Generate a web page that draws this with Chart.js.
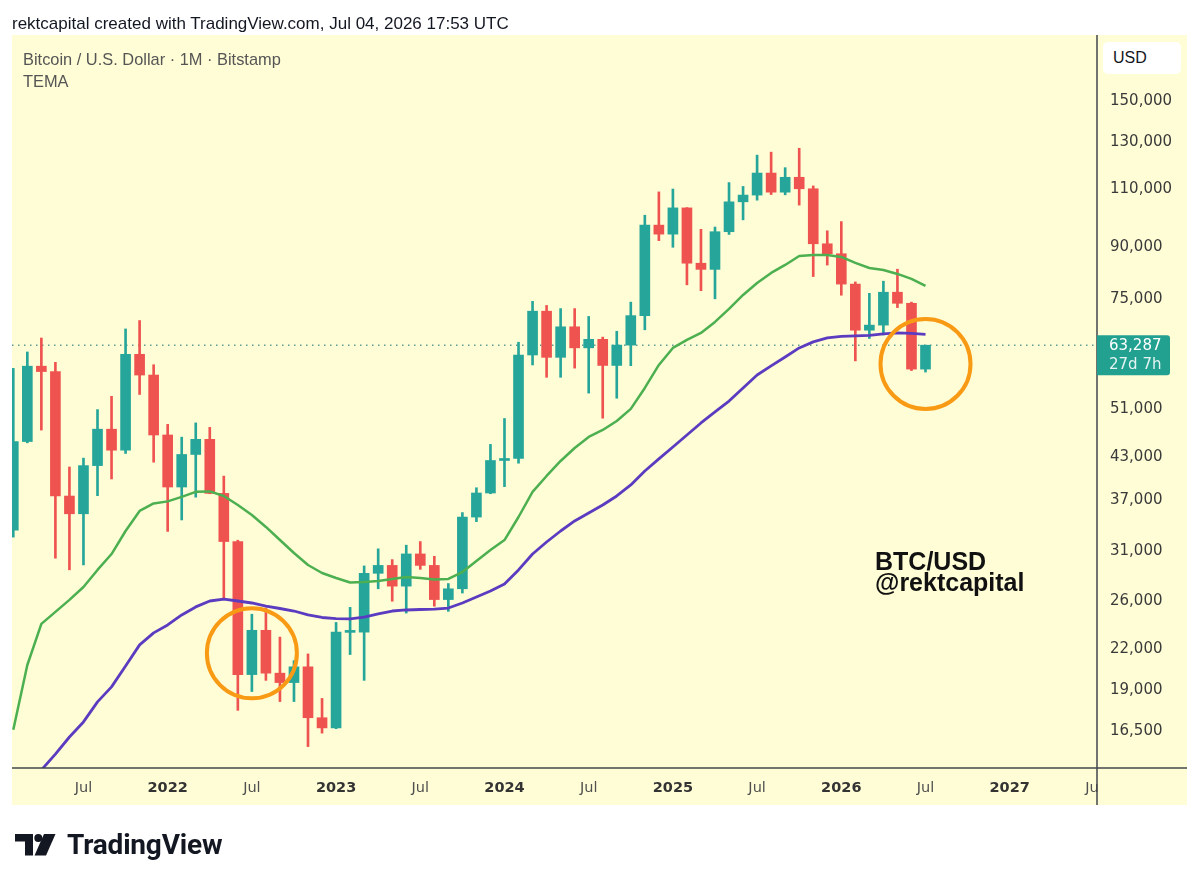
<!DOCTYPE html>
<html>
<head>
<meta charset="utf-8">
<title>BTC/USD 1M · TEMA</title>
<script src="https://cdn.jsdelivr.net/npm/chart.js@4.4.1/dist/chart.umd.min.js"></script>
<style>
  html, body { margin: 0; padding: 0; background: #fff; }
  #page { position: relative; width: 1200px; height: 885px; overflow: hidden; }
  #chart { position: absolute; left: 0; top: 0; }
  .txt { position: absolute; white-space: nowrap; z-index: 2; }
  #header { left: 12px; top: 15px; font: 17px/17px "Liberation Sans", Arial, sans-serif; color: #131722; }
  #legend { left: 23px; top: 48px; font: 16.4px/22px "Liberation Sans", Arial, sans-serif; color: #555; }
  #note { left: 875px; top: 551px; font: bold 25px/21px "Liberation Sans", Arial, sans-serif; color: #111; }
  #usd { left: 1103px; top: 42px; width: 68px; height: 32px; padding-left: 10px; background: #fff; border-radius: 5px;
         font: 16px/32px "Liberation Sans", Arial, sans-serif; color: #131722; }
  #logo { left: 67px; top: 831px; font: bold 28px/28px Roboto, "Liberation Sans", sans-serif; color: #131722; letter-spacing: -0.2px; }
  #logoIcon { position: absolute; left: 15px; top: 834px; z-index: 2; }
</style>
</head>
<body>
<div id="page">
  <canvas id="chart" width="1200" height="885"></canvas>
  <div class="txt" id="header">rektcapital created with TradingView.com, Jul 04, 2026 17:53 UTC</div>
  <div class="txt" id="legend">Bitcoin / U.S. Dollar · 1M · Bitstamp<br>TEMA</div>
  <div class="txt" id="note">BTC/USD<br>@rektcapital</div>
  <div class="txt" id="usd">USD</div>
  <svg id="logoIcon" width="41" height="22" viewBox="0 0 41 22">
    <rect x="0" y="0" width="18" height="7.5" fill="#131722"/>
    <rect x="10" y="0" width="8" height="21.5" fill="#131722"/>
    <circle cx="23.3" cy="4" r="4" fill="#131722"/>
    <polygon points="29,0 40.5,0 31,21.5 19.5,21.5" fill="#131722"/>
  </svg>
  <div class="txt" id="logo">TradingView</div>
</div>
<script>
// monthly candles, Feb 2021 .. Jul 2026 (x = index)
const months = [
  "2021-02","2021-03","2021-04","2021-05","2021-06","2021-07","2021-08","2021-09","2021-10","2021-11","2021-12",
  "2022-01","2022-02","2022-03","2022-04","2022-05","2022-06","2022-07","2022-08","2022-09","2022-10","2022-11","2022-12",
  "2023-01","2023-02","2023-03","2023-04","2023-05","2023-06","2023-07","2023-08","2023-09","2023-10","2023-11","2023-12",
  "2024-01","2024-02","2024-03","2024-04","2024-05","2024-06","2024-07","2024-08","2024-09","2024-10","2024-11","2024-12",
  "2025-01","2025-02","2025-03","2025-04","2025-05","2025-06","2025-07","2025-08","2025-09","2025-10","2025-11","2025-12",
  "2026-01","2026-02","2026-03","2026-04","2026-05","2026-06","2026-07"
];
const opens = [
  33100, 45150, 58800, 57700, 37300, 35050, 41500, 47150, 43800, 61300, 57000,
  46200, 38500, 43150, 45500, 37650, 31800, 19950, 23300, 20050, 19400, 20500, 17150,
  16550, 23130, 23150, 28450, 29250, 27200, 30450, 29250, 25950, 26950, 34650, 37700,
  42250, 42550, 61150, 71300, 60650, 67500, 62700, 64600, 58950, 63300, 70200, 96400,
  93400, 102400, 84350, 82550, 94200, 104600, 107100, 115700, 108200, 114000, 109500, 90300,
  87200, 78400, 66700, 67900, 76200, 73300, 58200
];
const highs = [
  58350, 61800, 64900, 59600, 41300, 42600, 50500, 52900, 67000, 69000, 59100,
  47950, 45850, 48200, 47450, 40000, 31950, 24650, 25200, 22750, 20950, 21450, 18350,
  23950, 25250, 29200, 31000, 29850, 31400, 31800, 30200, 27450, 35200, 38400, 44700,
  48950, 63950, 73800, 72750, 71950, 71950, 70000, 65100, 66450, 73600, 99800, 108300,
  109400, 102500, 95000, 95750, 111900, 110400, 123200, 124500, 117900, 126200, 110600, 94500,
  97600, 79000, 75900, 79200, 82600, 73600, 63287
];
const lows = [
  32300, 44950, 47000, 30000, 28800, 29300, 37350, 39600, 43300, 53250, 42000,
  32950, 34300, 37150, 37600, 26100, 17600, 18800, 19550, 18150, 18150, 15500, 16250,
  16500, 21400, 19550, 26950, 25800, 24750, 28850, 25350, 24900, 26550, 34100, 37600,
  38550, 41850, 59050, 56550, 56550, 58400, 53500, 49000, 52550, 58900, 66800, 91300,
  89200, 78200, 76600, 74450, 93300, 98200, 105200, 107300, 107200, 103400, 80500, 83800,
  75400, 59900, 64800, 65600, 72200, 57900, 57600
];
const closes = [
  45150, 58800, 57700, 37300, 35050, 41500, 47150, 43800, 61300, 57000, 46200,
  38500, 43150, 45500, 37650, 31800, 19950, 23300, 20050, 19400, 20500, 17150, 16550,
  23150, 23150, 28450, 29250, 27200, 30450, 29250, 25950, 26950, 34650, 37700, 42250,
  42550, 61150, 71300, 60650, 67500, 62700, 64600, 58950, 63300, 70200, 96400, 93400,
  102400, 84350, 82550, 94200, 104600, 107100, 115700, 108200, 114000, 109500, 90300, 87200,
  78400, 66700, 67900, 76200, 73300, 58200, 63287
];
// TEMA lines
const temaGreen = [
  16440, 20630, 23830, 24850, 25920, 27120, 28790, 30440, 33000, 35400, 36350,
  36610, 37190, 37850, 37910, 37310, 36150, 34910, 33470, 31970, 30550, 29290, 28480,
  27990, 27550, 27600, 27700, 27890, 28090, 27990, 27850, 27890, 28580, 29700, 30870,
  31970, 34660, 37850, 40020, 42180, 44140, 45880, 47020, 48530, 50620, 54480, 59050,
  62680, 64470, 66070, 68660, 71860, 75470, 78710, 81520, 83840, 86530, 86830, 86830,
  86230, 84440, 82960, 82380, 81240, 79830, 77900
];
const temaPurple = [
  12850, 13540, 14280, 15100, 16030, 16900, 18130, 19110, 20560, 22140, 23090,
  23740, 24590, 25290, 25820, 26000, 25820, 25640, 25370, 25150, 24930, 24590, 24370,
  24280, 24250, 24410, 24680, 24930, 25020, 25060, 25100, 25190, 25640, 26180, 26740,
  27400, 28790, 30440, 31750, 33000, 34180, 35150, 36150, 37310, 38780, 40730, 42480,
  44300, 46200, 48190, 50080, 52040, 54480, 57020, 58850, 60730, 62680, 64020, 64920,
  65260, 65370, 65490, 65840, 66070, 65960, 65720
];
// axis ticks
const xTickIdx = [5, 11, 17, 23, 29, 35, 41, 47, 53, 59, 65, 71, 77];
const xTickText = ["Jul", "2022", "Jul", "2023", "Jul", "2024", "Jul", "2025", "Jul", "2026", "Jul", "2027", "Jul"];
const yTicks = [150000, 130000, 110000, 90000, 75000, 51000, 43000, 37000, 31000, 26000, 22000, 19000, 16500];
// highlighted zones (month index, price)
const circleIdx = [17, 65];
const circleVals = [21500, 59260];
const countdown = "27d 7h";

const UP = "#26a69a";
const DOWN = "#ef5350";
const PANEL = "#fffdd6";
const xMin = -0.0926, xMax = 77.22;
const yMin = 14380, yMax = 187700;
const lastPrice = closes[closes.length - 1];

const fmt = v => String(v).replace(/\B(?=(\d{3})+(?!\d))/g, ",");
const candleColors = closes.map((c, i) => c >= opens[i] ? UP : DOWN);

const panelPlugin = {
  id: "panel",
  beforeDraw(chart) {
    const c = chart.ctx;
    c.save();
    c.fillStyle = PANEL;
    c.fillRect(12, 35, 1175, 770);
    c.restore();
  },
  afterDraw(chart) {
    const c = chart.ctx, a = chart.chartArea, ys = chart.scales.y;
    c.save();
    // hide the part of the last time label that runs under the price scale
    c.fillStyle = PANEL;
    c.fillRect(a.right + 1, a.bottom + 1, 1187 - a.right - 1, 805 - a.bottom - 1);
    c.strokeStyle = "#43464e";
    c.lineWidth = 1.5;
    c.beginPath();
    c.moveTo(a.right, 35); c.lineTo(a.right, 805);
    c.moveTo(12, a.bottom); c.lineTo(1187, a.bottom);
    c.stroke();

    // last price tag
    const py = ys.getPixelForValue(lastPrice);
    c.fillStyle = "#22a190";
    c.beginPath();
    c.roundRect(a.right, py - 10, 73, 40, [0, 3, 3, 0]);
    c.fill();
    c.font = "15px 'DejaVu Sans'";
    c.textBaseline = "middle";
    c.textAlign = "left";
    c.fillStyle = "#ffffff";
    c.fillText(fmt(lastPrice), a.right + 12, py + 1);
    c.fillStyle = "rgba(255,255,255,0.88)";
    c.fillText(countdown, a.right + 12, py + 19.5);
    c.restore();
  }
};

new Chart(document.getElementById("chart"), {
  type: "bar",
  data: {
    datasets: [
      {
        type: "line",
        data: [{x: xMin, y: lastPrice}, {x: xMax, y: lastPrice}],
        borderColor: "#5f9c92",
        borderWidth: 1.5,
        borderDash: [1.5, 4.5],
        pointRadius: 0,
        order: 6
      },
      {
        data: highs.map((h, i) => ({x: i, y: [lows[i], h]})),
        backgroundColor: candleColors,
        barThickness: 2,
        grouped: false,
        order: 5
      },
      {
        data: closes.map((c, i) => ({x: i, y: [opens[i], c]})),
        backgroundColor: candleColors,
        barThickness: 10,
        minBarLength: 2,
        grouped: false,
        order: 4
      },
      {
        type: "line",
        data: temaPurple.map((v, i) => ({x: i, y: v})),
        borderColor: "#5b3cc0",
        borderWidth: 2.8,
        pointRadius: 0,
        tension: 0,
        borderJoinStyle: "round",
        order: 3
      },
      {
        type: "line",
        data: temaGreen.map((v, i) => ({x: i, y: v})),
        borderColor: "#4caf50",
        borderWidth: 2.5,
        pointRadius: 0,
        tension: 0,
        borderJoinStyle: "round",
        order: 2
      },
      {
        type: "line",
        data: circleIdx.map((x, i) => ({x: x, y: circleVals[i]})),
        showLine: false,
        pointStyle: "circle",
        pointRadius: 45,
        pointBorderWidth: 4,
        pointBorderColor: "#f89a14",
        pointBackgroundColor: "rgba(0,0,0,0)",
        order: 1
      }
    ]
  },
  options: {
    responsive: false,
    animation: false,
    events: [],
    layout: { autoPadding: false, padding: { left: 12, top: 35, right: 13, bottom: 80 } },
    plugins: { legend: { display: false }, tooltip: { enabled: false } },
    scales: {
      x: {
        type: "linear",
        offset: false,
        min: xMin,
        max: xMax,
        bounds: "data",
        grid: { display: false, drawTicks: false, offset: false },
        border: { display: false },
        afterBuildTicks: s => { s.ticks = xTickIdx.map(v => ({value: v})); },
        afterFit: s => { s.height = 37; s.paddingLeft = 0; s.paddingRight = 0; },
        ticks: {
          padding: 12,
          autoSkip: false,
          maxRotation: 0,
          callback: v => xTickText[xTickIdx.indexOf(v)],
          color: ctx => xTickText[ctx.index] === "Jul" ? "#505050" : "#333333",
          font: ctx => ({
            family: "'DejaVu Sans'",
            size: 14.5,
            weight: xTickText[ctx.index] === "Jul" ? "normal" : "bold"
          })
        }
      },
      y: {
        type: "logarithmic",
        position: "right",
        beginAtZero: false,
        min: yMin,
        max: yMax,
        bounds: "data",
        grid: { display: false, drawTicks: false },
        border: { display: false },
        afterBuildTicks: s => { s.ticks = yTicks.map(v => ({value: v})); },
        afterFit: s => { s.width = 90; s.paddingTop = 0; s.paddingBottom = 0; },
        ticks: {
          padding: 13,
          labelOffset: 2,
          autoSkip: false,
          color: "#3a3a3a",
          font: { family: "'DejaVu Sans'", size: 15 },
          callback: v => fmt(v)
        }
      }
    }
  },
  plugins: [panelPlugin]
});
</script>
</body>
</html>
